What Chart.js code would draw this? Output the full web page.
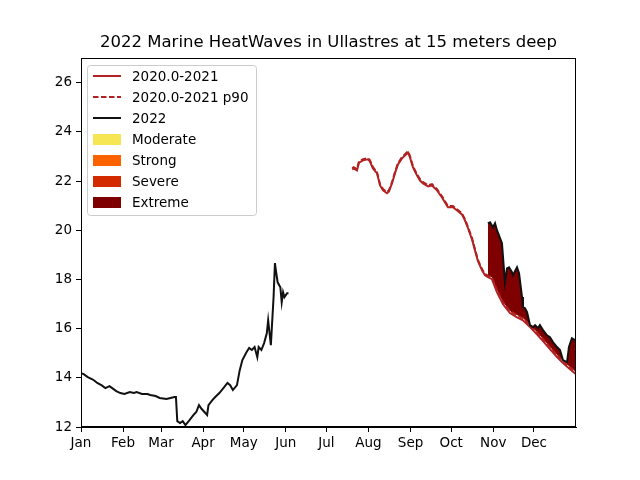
<!DOCTYPE html>
<html>
<head>
<meta charset="utf-8">
<script src="https://cdn.jsdelivr.net/npm/chart.js@4.4.1/dist/chart.umd.min.js"></script>
<style>
  html, body { margin: 0; padding: 0; background: #fff; }
  canvas { display: block; }
</style>
</head>
<body>
<canvas id="myChart" width="640" height="480"></canvas>
<script>
// day-of-year positions of month starts and their labels
const monthDays = [0, 31, 59, 90, 120, 151, 181, 212, 243, 273, 304, 334];
const monthLabels = ['Jan', 'Feb', 'Mar', 'Apr', 'May', 'Jun', 'Jul', 'Aug', 'Sep', 'Oct', 'Nov', 'Dec'];
const yTicks = [12, 14, 16, 18, 20, 22, 24, 26];

// 2022, first part (Jan - early Jun)
const days2022a = [0, 2, 5, 8, 10, 12, 15, 18, 21, 23, 26, 29, 32, 36, 39, 41, 45, 49, 51, 55, 58, 63, 66, 69, 70,
    71, 73, 75, 77, 80, 83, 85, 87, 89, 93, 94, 97, 99, 102, 105, 108, 110, 112, 115, 117, 119, 122, 124, 126,
    128, 130, 131, 133, 135, 137, 138, 140, 142, 143, 144, 145, 147, 148, 149, 150, 152, 153];
const temps2022a = [14.19, 14.15, 14.03, 13.95, 13.88, 13.79, 13.70, 13.58, 13.66, 13.58, 13.46, 13.38, 13.34, 13.42,
    13.38, 13.42, 13.34, 13.34, 13.30, 13.26, 13.18, 13.14, 13.18, 13.22, 13.22,
    12.24, 12.16, 12.24, 12.08, 12.28, 12.49, 12.61, 12.89, 12.73, 12.49, 12.89, 13.10, 13.22, 13.38, 13.58, 13.79,
    13.70, 13.50, 13.70, 14.30, 14.72, 15.04, 15.21, 15.13, 15.25, 14.84, 15.25, 15.13, 15.41, 15.81, 16.34, 15.33,
    17.28, 18.66, 18.25, 17.88, 17.68, 17.07, 17.48, 17.28, 17.44, 17.44];

// 2022, second part (Nov - Dec)
const days2022b = [300, 301.6, 303.8, 305.3, 306.7, 308.2, 310.4, 311.2, 312.6, 314.1, 315.6, 317.8, 318.5, 321.5,
    323, 325.2, 325.9, 327.4, 328.9, 331.1, 333.3, 334.8, 337, 338.4, 340.7, 343.6, 345.8, 348, 351, 353.2,
    355.4, 358.4, 359.8, 362, 364.3, 365];
const temps2022b = [20.28, 20.32, 20.12, 20.28, 20.00, 19.79, 19.47, 18.90, 17.88, 18.45, 18.49, 18.29, 18.17, 18.49,
    18.25, 17.28, 16.87, 16.83, 16.67, 16.14, 16.06, 16.14, 16.02, 16.14, 15.94, 15.73, 15.65, 15.45, 15.25, 15.13,
    14.72, 14.64, 15.25, 15.61, 15.53, 15.45];

// 2020.0-2021 climatology and its 90th percentile
const climDays = [200, 201, 203.5, 205, 208, 211.6, 213, 215.3, 218.3, 220.5, 222.7, 225.6, 227.1, 229.3, 231.5,
    233.7, 236.7, 238.9, 241.1, 242.6, 244.8, 247.7, 250, 252.2, 255.9, 258.8, 262.5, 266.2, 268.4, 270.6, 274.3,
    278, 280.9, 283.1, 285.4, 288.3, 290.5, 292.7, 295.7, 297.9, 300.1, 303, 306.7, 311.2, 316.3, 321.5, 325.9,
    331.1, 336.2, 340.7, 345.8, 351, 355.4, 360.6, 365];
const climTemps = [22.47, 22.51, 22.43, 22.75, 22.84, 22.88, 22.80, 22.51, 22.31, 21.82, 21.62, 21.50, 21.58, 21.90,
    22.31, 22.67, 22.92, 23.04, 23.16, 22.96, 22.55, 22.23, 22.02, 21.90, 21.78, 21.82, 21.62, 21.33, 21.13, 20.93,
    20.93, 20.77, 20.64, 20.40, 20.08, 19.63, 19.18, 18.74, 18.37, 18.17, 18.09, 18.01, 17.48, 16.99, 16.63, 16.46,
    16.34, 16.06, 15.77, 15.49, 15.17, 14.84, 14.60, 14.35, 14.15];
const p90Temps = [22.52, 22.56, 22.48, 22.80, 22.89, 22.93, 22.85, 22.56, 22.36, 21.87, 21.67, 21.55, 21.63, 21.95,
    22.36, 22.72, 22.97, 23.09, 23.21, 23.01, 22.60, 22.28, 22.07, 21.95, 21.83, 21.87, 21.67, 21.38, 21.18, 20.98,
    20.98, 20.82, 20.69, 20.45, 20.13, 19.68, 19.23, 18.79, 18.42, 18.22, 18.15, 18.08, 17.56, 17.07, 16.71, 16.54,
    16.42, 16.14, 15.85, 15.57, 15.25, 14.92, 14.68, 14.43, 14.23];

const categoryNames = ['Moderate', 'Strong', 'Severe', 'Extreme'];
const categoryColors = ['#f7e653', '#fd6200', '#d42a00', '#7f0000'];

const climColor = '#b22222';
const lineColor = '#111111';
const fontFamily = "'DejaVu Sans', sans-serif";

const toPoints = (xs, ys) => xs.map((x, i) => ({ x, y: ys[i] }));

const line2022 = toPoints(days2022a, temps2022a)
    .concat([{ x: 154, y: null }])
    .concat(toPoints(days2022b, temps2022b));

// matplotlib-like legend drawn inside the axes
const legendItems = [
    { label: '2020.0-2021', kind: 'line', color: climColor, dash: [] },
    { label: '2020.0-2021 p90', kind: 'line', color: climColor, dash: [5.5, 2.5] },
    { label: '2022', kind: 'line', color: lineColor, dash: [] }
].concat(categoryNames.map((name, i) => ({ label: name, kind: 'patch', color: categoryColors[i] })));

const frameAndLegend = {
    id: 'frameAndLegend',
    afterDraw(chart) {
        const { ctx, chartArea: a } = chart;
        ctx.save();
        // axes frame
        ctx.strokeStyle = '#000';
        ctx.lineWidth = 1;
        ctx.strokeRect(a.left + 0.5, a.top + 0.5, a.right - a.left - 1, a.bottom - a.top - 1);

        // title
        ctx.fillStyle = '#000';
        ctx.font = '16.5px ' + fontFamily;
        ctx.textAlign = 'center';
        ctx.textBaseline = 'middle';
        ctx.fillText('2022 Marine HeatWaves in Ullastres at 15 meters deep', (a.left + a.right) / 2, 43);

        // legend box
        const bx = a.left + 6.5, by = a.top + 7.5, bw = 169, bh = 150, r = 3;
        ctx.beginPath();
        ctx.roundRect(bx, by, bw, bh, r);
        ctx.fillStyle = 'rgba(255,255,255,0.8)';
        ctx.fill();
        ctx.strokeStyle = '#cccccc';
        ctx.stroke();

        ctx.font = '13.5px ' + fontFamily;
        ctx.textAlign = 'left';
        legendItems.forEach((item, i) => {
            const cy = a.top + 18 + i * 21;
            if (item.kind === 'line') {
                ctx.beginPath();
                ctx.setLineDash(item.dash);
                ctx.strokeStyle = item.color;
                ctx.lineWidth = 2;
                ctx.moveTo(a.left + 12, cy);
                ctx.lineTo(a.left + 40, cy);
                ctx.stroke();
                ctx.setLineDash([]);
            } else {
                ctx.fillStyle = item.color;
                ctx.fillRect(a.left + 12, cy - 5, 28, 11);
            }
            ctx.fillStyle = '#000';
            ctx.fillText(item.label, a.left + 51, cy + 1);
        });
        ctx.restore();
    }
};

const ctx = document.getElementById('myChart').getContext('2d');
const myChart = new Chart(ctx, {
    type: 'line',
    data: {
        datasets: [
            {
                label: '2022',
                data: line2022,
                borderColor: lineColor,
                borderWidth: 2,
                pointRadius: 0,
                spanGaps: false,
                fill: false,
                order: 0
            },
            {
                label: '2020.0-2021',
                data: toPoints(climDays, climTemps),
                borderColor: climColor,
                borderWidth: 2,
                pointRadius: 0,
                fill: false,
                order: 1
            },
            {
                label: '2020.0-2021 p90',
                data: toPoints(climDays, p90Temps),
                borderColor: climColor,
                borderDash: [5.5, 2.5],
                borderWidth: 2,
                pointRadius: 0,
                fill: false,
                order: 2
            },
            {
                label: 'Extreme',
                data: toPoints(days2022b, temps2022b),
                borderWidth: 0,
                borderColor: 'rgba(0,0,0,0)',
                backgroundColor: categoryColors[3],
                pointRadius: 0,
                fill: { target: 2, above: categoryColors[3], below: 'rgba(0,0,0,0)' },
                order: 3
            }
        ]
    },
    options: {
        responsive: false,
        animation: false,
        events: [],
        layout: { padding: { top: 58, right: 64, left: 0, bottom: 0 } },
        plugins: {
            legend: { display: false },
            title: { display: false },
            tooltip: { enabled: false }
        },
        scales: {
            x: {
                type: 'linear',
                min: 0,
                max: 365,
                afterFit: s => { s.height = 53; },
                afterBuildTicks: s => { s.ticks = monthDays.map(v => ({ value: v })); },
                grid: { drawOnChartArea: false, drawTicks: true, tickLength: 5, color: '#000', tickWidth: 1 },
                border: { display: true, color: '#000' },
                ticks: {
                    color: '#000',
                    font: { family: fontFamily, size: 13.5 },
                    padding: 3,
                    maxRotation: 0,
                    autoSkip: false,
                    callback: v => monthLabels[monthDays.indexOf(v)]
                }
            },
            y: {
                type: 'linear',
                min: 12,
                max: 27,
                afterFit: s => { s.width = 81; },
                afterBuildTicks: s => { s.ticks = yTicks.map(v => ({ value: v })); },
                grid: { drawOnChartArea: false, drawTicks: true, tickLength: 5, color: '#000', tickWidth: 1 },
                border: { display: true, color: '#000' },
                ticks: {
                    color: '#000',
                    font: { family: fontFamily, size: 13.5 },
                    padding: 4,
                    autoSkip: false
                }
            }
        }
    },
    plugins: [frameAndLegend]
});
</script>
</body>
</html>
